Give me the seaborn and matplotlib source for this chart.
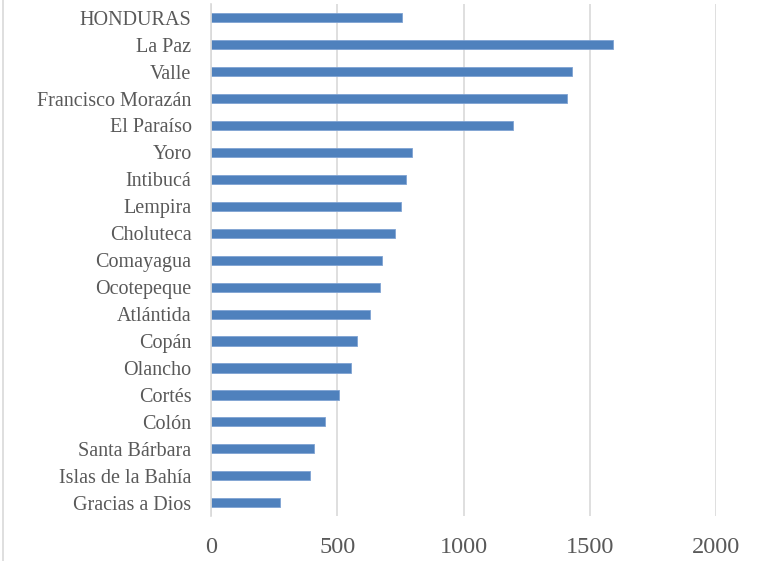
import matplotlib
matplotlib.use("Agg")
import matplotlib.pyplot as plt
import seaborn as sns
import pandas as pd
from matplotlib.lines import Line2D

categories = ["HONDURAS", "La Paz", "Valle", "Francisco Morazán", "El Paraíso", "Yoro",
              "Intibucá", "Lempira", "Choluteca", "Comayagua", "Ocotepeque", "Atlántida",
              "Copán", "Olancho", "Cortés", "Colón", "Santa Bárbara", "Islas de la Bahía",
              "Gracias a Dios"]
values = [757, 1594, 1430, 1408, 1197, 798, 771, 752, 729, 679, 671, 630, 580, 555, 508,
          450, 408, 393, 275]
x_ticks = [0, 500, 1000, 1500, 2000]

sns.set_theme(style="white")
plt.rcParams['font.family'] = ['Liberation Serif', 'DejaVu Serif']

df = pd.DataFrame({"cat": categories, "val": values})

fig = plt.figure(figsize=(7.6, 5.61), dpi=100)
ax = fig.add_axes([211/760, 1 - 516.2/561, (716-211)/760, (516.2-4.2)/561])

sns.barplot(data=df, y="cat", x="val", orient="h", color="#4F81BD", saturation=1,
            width=0.34, ax=ax, order=categories, edgecolor="#7FA3D3", linewidth=0.6)

ax.set_xlim(0, 2000)
ax.set_ylim(len(categories) - 0.5, -0.5)
ax.set_xticks(x_ticks)
ax.set_xticklabels([str(t) for t in x_ticks])
ax.set_xlabel("")
ax.set_ylabel("")
ax.xaxis.grid(True, color="#D9D9D9", linewidth=1.2)
ax.yaxis.grid(False)
ax.set_axisbelow(True)
for s in ["top", "right", "bottom"]:
    ax.spines[s].set_visible(False)
ax.spines["left"].set_color("#D9D9D9")
ax.spines["left"].set_linewidth(1.2)
ax.tick_params(axis="both", length=0, colors="#595959")
ax.tick_params(axis="y", pad=14, labelsize=14.5)
ax.tick_params(axis="x", pad=15, labelsize=17.5)

fig.add_artist(Line2D([3.5/760, 3.5/760], [0, 1], transform=fig.transFigure,
                      color="#D9D9D9", linewidth=1.2))

fig.savefig("out.png", dpi=100)
